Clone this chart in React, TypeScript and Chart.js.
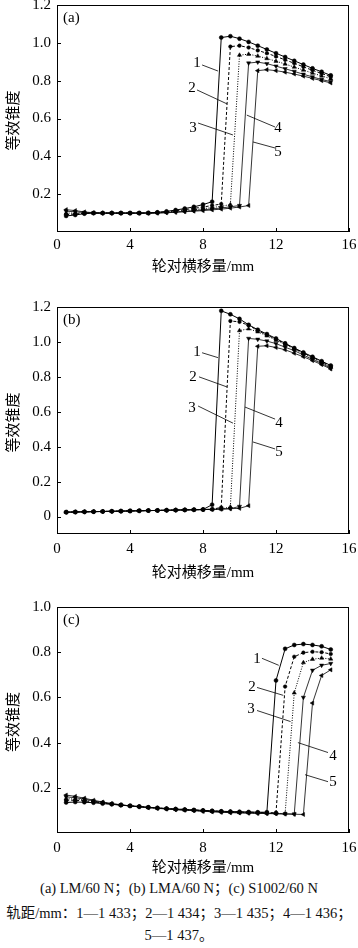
import React, { useEffect, useRef } from 'react';
import { Chart, registerables } from 'chart.js';
Chart.register(...registerables);

// ---------- data ----------
const XS = [0.5, 1, 1.5, 2, 2.5, 3, 3.5, 4, 4.5, 5, 5.5, 6, 6.5, 7, 7.5, 8, 8.5, 9, 9.5, 10, 10.5, 11, 11.5, 12, 12.5, 13, 13.5, 14, 14.5, 15];
const X_TICKS = [0, 4, 8, 12, 16];

// (a) LM/60 N
const A1 = [0.085, 0.09, 0.097, 0.1, 0.1, 0.1, 0.1, 0.1, 0.1, 0.101, 0.104, 0.109, 0.116, 0.124, 0.133, 0.145, 0.16,
  1.028, 1.035, 1.022, 1.005, 0.985, 0.965, 0.945, 0.925, 0.905, 0.885, 0.865, 0.847, 0.828];
const A2 = [0.092, 0.095, 0.099, 0.1, 0.1, 0.1, 0.1, 0.1, 0.1, 0.1, 0.103, 0.107, 0.112, 0.118, 0.125, 0.132, 0.14, 0.148,
  0.98, 0.985, 0.975, 0.96, 0.945, 0.928, 0.91, 0.892, 0.873, 0.855, 0.838, 0.82];
const A3 = [0.1, 0.1, 0.1, 0.1, 0.1, 0.1, 0.1, 0.1, 0.1, 0.1, 0.102, 0.105, 0.109, 0.113, 0.118, 0.123, 0.129, 0.136, 0.145,
  0.935, 0.94, 0.93, 0.917, 0.903, 0.888, 0.872, 0.856, 0.84, 0.825, 0.81];
const A4 = [0.11, 0.107, 0.103, 0.101, 0.1, 0.1, 0.1, 0.1, 0.1, 0.1, 0.101, 0.103, 0.106, 0.109, 0.113, 0.117, 0.122, 0.127, 0.133, 0.14,
  0.893, 0.898, 0.89, 0.877, 0.863, 0.849, 0.834, 0.82, 0.806, 0.795];
const A5 = [0.118, 0.113, 0.106, 0.102, 0.1, 0.1, 0.1, 0.1, 0.1, 0.1, 0.1, 0.102, 0.104, 0.107, 0.11, 0.113, 0.117, 0.121, 0.126, 0.132, 0.14,
  0.853, 0.858, 0.853, 0.845, 0.835, 0.824, 0.812, 0.8, 0.788];

// (b) LMA/60 N
const B1 = [0.025, 0.026, 0.027, 0.028, 0.029, 0.03, 0.031, 0.032, 0.033, 0.034, 0.035, 0.036, 0.037, 0.038, 0.039, 0.04, 0.068,
  1.178, 1.158, 1.132, 1.098, 1.07, 1.045, 1.02, 0.992, 0.965, 0.94, 0.915, 0.89, 0.865];
const B2 = [0.025, 0.026, 0.027, 0.028, 0.029, 0.03, 0.031, 0.032, 0.033, 0.034, 0.035, 0.036, 0.037, 0.038, 0.039, 0.04, 0.042, 0.052,
  1.12, 1.115, 1.095, 1.065, 1.04, 1.015, 0.99, 0.962, 0.937, 0.912, 0.887, 0.86];
const B3 = [0.025, 0.026, 0.027, 0.028, 0.029, 0.03, 0.031, 0.032, 0.033, 0.034, 0.035, 0.036, 0.037, 0.038, 0.039, 0.04, 0.041, 0.043, 0.055,
  1.065, 1.075, 1.058, 1.035, 1.01, 0.985, 0.96, 0.933, 0.908, 0.882, 0.855];
const B4 = [0.025, 0.026, 0.027, 0.028, 0.029, 0.03, 0.031, 0.032, 0.033, 0.034, 0.035, 0.036, 0.037, 0.038, 0.039, 0.04, 0.041, 0.043, 0.045, 0.058,
  1.02, 1.015, 1.005, 0.99, 0.97, 0.95, 0.925, 0.9, 0.877, 0.85];
const B5 = [0.025, 0.026, 0.027, 0.028, 0.029, 0.03, 0.031, 0.032, 0.033, 0.034, 0.035, 0.036, 0.037, 0.038, 0.039, 0.04, 0.041, 0.043, 0.045, 0.047, 0.062,
  0.975, 0.978, 0.968, 0.955, 0.935, 0.915, 0.893, 0.87, 0.845];

// (c) S1002/60 N
const C1 = [0.135, 0.137, 0.136, 0.134, 0.13, 0.127, 0.123, 0.12, 0.117, 0.114, 0.111, 0.108, 0.106, 0.104, 0.102, 0.1, 0.098, 0.096, 0.095, 0.094, 0.093, 0.092, 0.092,
  0.675, 0.815, 0.832, 0.836, 0.832, 0.826, 0.812];
const C2 = [0.145, 0.145, 0.142, 0.138, 0.132, 0.128, 0.124, 0.12, 0.117, 0.114, 0.111, 0.108, 0.106, 0.104, 0.102, 0.1, 0.098, 0.096, 0.094, 0.093, 0.092, 0.091, 0.09, 0.09,
  0.648, 0.78, 0.798, 0.802, 0.8, 0.792];
const C3 = [0.152, 0.15, 0.146, 0.14, 0.134, 0.129, 0.124, 0.12, 0.117, 0.113, 0.11, 0.107, 0.105, 0.102, 0.1, 0.098, 0.096, 0.094, 0.093, 0.091, 0.09, 0.089, 0.088, 0.087, 0.086,
  0.62, 0.754, 0.769, 0.774, 0.77];
const C4 = [0.16, 0.156, 0.15, 0.142, 0.135, 0.129, 0.124, 0.12, 0.116, 0.113, 0.11, 0.107, 0.104, 0.102, 0.1, 0.097, 0.095, 0.093, 0.091, 0.09, 0.089, 0.088, 0.087, 0.086, 0.085, 0.084,
  0.6, 0.72, 0.742, 0.75];
const C5 = [0.168, 0.162, 0.154, 0.145, 0.137, 0.13, 0.125, 0.12, 0.116, 0.112, 0.109, 0.106, 0.103, 0.101, 0.099, 0.096, 0.094, 0.092, 0.09, 0.089, 0.088, 0.087, 0.086, 0.085, 0.084, 0.083, 0.082,
  0.575, 0.697, 0.722];

const Y_TICKS_A = [0.2, 0.4, 0.6, 0.8, 1.0, 1.2];
const Y_TICKS_B = [0, 0.2, 0.4, 0.6, 0.8, 1.0, 1.2];
const Y_TICKS_C = [0.2, 0.4, 0.6, 0.8, 1.0];

// curve-number callouts (label position, leader line ends) in data units
const NOTES_A = [
  { t: '1', tx: 7.67, ty: 0.893, x1: 7.95, y1: 0.883, x2: 8.82, y2: 0.851 },
  { t: '2', tx: 7.40, ty: 0.761, x1: 7.67, y1: 0.751, x2: 9.32, y2: 0.677 },
  { t: '3', tx: 7.45, ty: 0.55, x1: 7.73, y1: 0.576, x2: 9.64, y2: 0.513 },
  { t: '4', tx: 12.11, ty: 0.55, x1: 10.4, y1: 0.618, x2: 11.95, y2: 0.555 },
  { t: '5', tx: 12.11, ty: 0.423, x1: 10.74, y1: 0.476, x2: 11.95, y2: 0.444 },
];
const NOTES_B = [
  { t: '1', tx: 7.67, ty: 0.942, x1: 7.95, y1: 0.938, x2: 8.82, y2: 0.91 },
  { t: '2', tx: 7.45, ty: 0.80, x1: 7.78, y1: 0.80, x2: 9.32, y2: 0.742 },
  { t: '3', tx: 7.4, ty: 0.62, x1: 7.73, y1: 0.633, x2: 9.64, y2: 0.535 },
  { t: '4', tx: 12.16, ty: 0.535, x1: 10.3, y1: 0.627, x2: 11.95, y2: 0.558 },
  { t: '5', tx: 12.16, ty: 0.37, x1: 10.74, y1: 0.427, x2: 11.95, y2: 0.387 },
];
const NOTES_C = [
  { t: '1', tx: 10.96, ty: 0.769, x1: 11.23, y1: 0.773, x2: 12.15, y2: 0.742 },
  { t: '2', tx: 10.68, ty: 0.644, x1: 10.96, y1: 0.644, x2: 12.4, y2: 0.609 },
  { t: '3', tx: 10.63, ty: 0.547, x1: 10.96, y1: 0.542, x2: 12.8, y2: 0.493 },
  { t: '4', tx: 15.12, ty: 0.342, x1: 13.2, y1: 0.4, x2: 14.85, y2: 0.356 },
  { t: '5', tx: 15.12, ty: 0.227, x1: 13.59, y1: 0.258, x2: 14.85, y2: 0.227 },
];

const X_TITLE = '轮对横移量/mm';
const Y_TITLE = '等效锥度';
const CAPTION1 = '(a) LM/60 N；(b) LMA/60 N；(c) S1002/60 N';
const CAPTION2 = '轨距/mm：1—1 433；2—1 434；3—1 435；4—1 436；';
const CAPTION3 = '5—1 437。';

// ---------- styles ----------
const SERIF = "'Liberation Serif', 'Times New Roman', serif";
const MIXED = "'Liberation Serif', 'Noto Sans CJK SC', serif";
const STYLES = [
  { dash: [], pointStyle: 'circle', radius: 2, rotation: 0, width: 1 },
  { dash: [3, 2], pointStyle: 'circle', radius: 1.8, rotation: 0, width: 1 },
  { dash: [1, 1.5], pointStyle: 'triangle', radius: 2.4, rotation: 0, width: 1 },
  { dash: [], pointStyle: 'triangle', radius: 2.4, rotation: 180, width: 0.8 },
  { dash: [], pointStyle: 'triangle', radius: 2.4, rotation: 270, width: 0.8 },
];

const PANELS = [
  { top: 0, height: 285, areaTop: 5, areaBottom: 232, yMin: 0, yMax: 1.2, yTicks: Y_TICKS_A, label: '(a)',
    series: [A1, A2, A3, A4, A5], notes: NOTES_A, tickPad: 4, titleOff: 35 },
  { top: 290, height: 290, areaTop: 17, areaBottom: 244, yMin: -0.1, yMax: 1.2, yTicks: Y_TICKS_B, label: '(b)',
    series: [B1, B2, B3, B4, B5], notes: NOTES_B, tickPad: 6, titleOff: 39 },
  { top: 590, height: 290, areaTop: 17, areaBottom: 243, yMin: 0, yMax: 1.0, yTicks: Y_TICKS_C, label: '(c)',
    series: [C1, C2, C3, C4, C5], notes: NOTES_C, tickPad: 6, titleOff: 35 },
];

const AREA_LEFT = 57;
const AREA_RIGHT = 349;
const WIDTH = 358;

const decorPlugin = {
  id: 'decor',
  afterDraw(chart: any, _args: any, opts: any) {
    const { ctx, chartArea: a, scales } = chart;
    const x = scales.x;
    const y = scales.y;
    ctx.save();
    ctx.strokeStyle = '#000';
    ctx.fillStyle = '#000';
    ctx.lineWidth = 1;
    ctx.setLineDash([]);
    ctx.strokeRect(Math.round(a.left) + 0.5, Math.round(a.top) + 0.5, Math.round(a.right - a.left) - 1, Math.round(a.bottom - a.top) - 1);
    ctx.beginPath();
    for (const v of X_TICKS) {
      const px = Math.round(x.getPixelForValue(v)) + 0.5;
      ctx.moveTo(px, a.bottom);
      ctx.lineTo(px, a.bottom - 4);
    }
    for (const v of opts.yTicks) {
      const py = Math.round(y.getPixelForValue(v)) + 0.5;
      ctx.moveTo(a.left, py);
      ctx.lineTo(a.left + 4, py);
    }
    ctx.stroke();

    ctx.font = `15px ${SERIF}`;
    ctx.textBaseline = 'middle';
    ctx.textAlign = 'left';
    ctx.fillText(opts.label, a.left + 6, a.top + 13);

    ctx.lineWidth = 0.8;
    ctx.font = `15px ${SERIF}`;
    ctx.textAlign = 'center';
    for (const n of opts.notes) {
      ctx.beginPath();
      ctx.moveTo(x.getPixelForValue(n.x1), y.getPixelForValue(n.y1));
      ctx.lineTo(x.getPixelForValue(n.x2), y.getPixelForValue(n.y2));
      ctx.stroke();
      ctx.fillText(n.t, x.getPixelForValue(n.tx), y.getPixelForValue(n.ty));
    }

    ctx.font = `15px ${MIXED}`;
    ctx.textAlign = 'center';
    ctx.textBaseline = 'middle';
    ctx.fillText(X_TITLE, (a.left + a.right) / 2, a.bottom + opts.titleOff);
    ctx.translate(14, (a.top + a.bottom) / 2 + 2);
    ctx.rotate(-Math.PI / 2);
    ctx.fillText(Y_TITLE, 0, 0);
    ctx.restore();
  },
};

function Panel({ p }: { p: any }) {
  const ref = useRef<HTMLCanvasElement | null>(null);
  useEffect(() => {
    if (!ref.current) return;
    const datasets = p.series.map((s: number[], i: number) => {
      const st = STYLES[i];
      return {
        label: String(i + 1),
        data: XS.map((xv, j) => ({ x: xv, y: s[j] })),
        borderColor: '#000',
        backgroundColor: '#000',
        borderWidth: st.width,
        borderDash: st.dash,
        pointStyle: st.pointStyle,
        pointRadius: st.radius,
        pointRotation: st.rotation,
        pointBorderWidth: 0.5,
        pointBackgroundColor: '#000',
        pointBorderColor: '#000',
        tension: 0,
        fill: false,
      };
    });
    const xAxisH = p.height - p.areaBottom;
    const chart = new Chart(ref.current, {
      type: 'line',
      data: { datasets },
      plugins: [decorPlugin],
      options: {
        responsive: false,
        animation: false,
        devicePixelRatio: 1,
        layout: { padding: { top: p.areaTop, right: WIDTH - AREA_RIGHT, left: 0, bottom: 0 } },
        plugins: {
          legend: { display: false },
          tooltip: { enabled: false },
          decor: { yTicks: p.yTicks, label: p.label, notes: p.notes, titleOff: p.titleOff },
        } as any,
        scales: {
          x: {
            type: 'linear',
            min: 0,
            max: 16,
            afterBuildTicks: (sc: any) => { sc.ticks = X_TICKS.map((v) => ({ value: v })); },
            afterFit: (sc: any) => {
              sc.height = xAxisH;
              sc.paddingLeft = 0; sc.paddingRight = 0; sc.paddingTop = 0; sc.paddingBottom = 0;
            },
            ticks: {
              color: '#000',
              font: { family: SERIF, size: 15 },
              padding: p.tickPad,
              maxRotation: 0,
              autoSkip: false,
              callback: (v: any) => String(v),
            },
            grid: { display: false, drawTicks: false },
            border: { display: false },
          },
          y: {
            type: 'linear',
            min: p.yMin,
            max: p.yMax,
            afterBuildTicks: (sc: any) => { sc.ticks = p.yTicks.map((v: number) => ({ value: v })); },
            afterFit: (sc: any) => {
              sc.width = AREA_LEFT;
              sc.paddingLeft = 0; sc.paddingRight = 0; sc.paddingTop = 0; sc.paddingBottom = 0;
            },
            ticks: {
              color: '#000',
              font: { family: SERIF, size: 15 },
              padding: 6,
              autoSkip: false,
              callback: (v: any) => (Math.abs(v) < 1e-9 ? '0' : Number(v).toFixed(1)),
            },
            grid: { display: false, drawTicks: false },
            border: { display: false },
          },
        },
      } as any,
    });
    return () => chart.destroy();
  }, [p]);
  return (
    <canvas
      ref={ref}
      width={WIDTH}
      height={p.height}
      style={{ position: 'absolute', left: 0, top: p.top, width: WIDTH, height: p.height }}
    />
  );
}

export default function App() {
  const cap: React.CSSProperties = {
    position: 'absolute',
    left: 0,
    width: WIDTH,
    textAlign: 'center',
    fontFamily: MIXED,
    fontSize: 14.5,
    color: '#111',
    whiteSpace: 'nowrap',
    lineHeight: '16px',
  };
  return (
    <div style={{ position: 'absolute', left: 0, top: 0, width: WIDTH, height: 948, background: '#fff', overflow: 'hidden' }}>
      {PANELS.map((p, i) => (
        <Panel key={i} p={p} />
      ))}
      <div style={{ ...cap, top: 880 }}>{CAPTION1}</div>
      <div style={{ ...cap, top: 905 }}>{CAPTION2}</div>
      <div style={{ ...cap, top: 927 }}>{CAPTION3}</div>
    </div>
  );
}
